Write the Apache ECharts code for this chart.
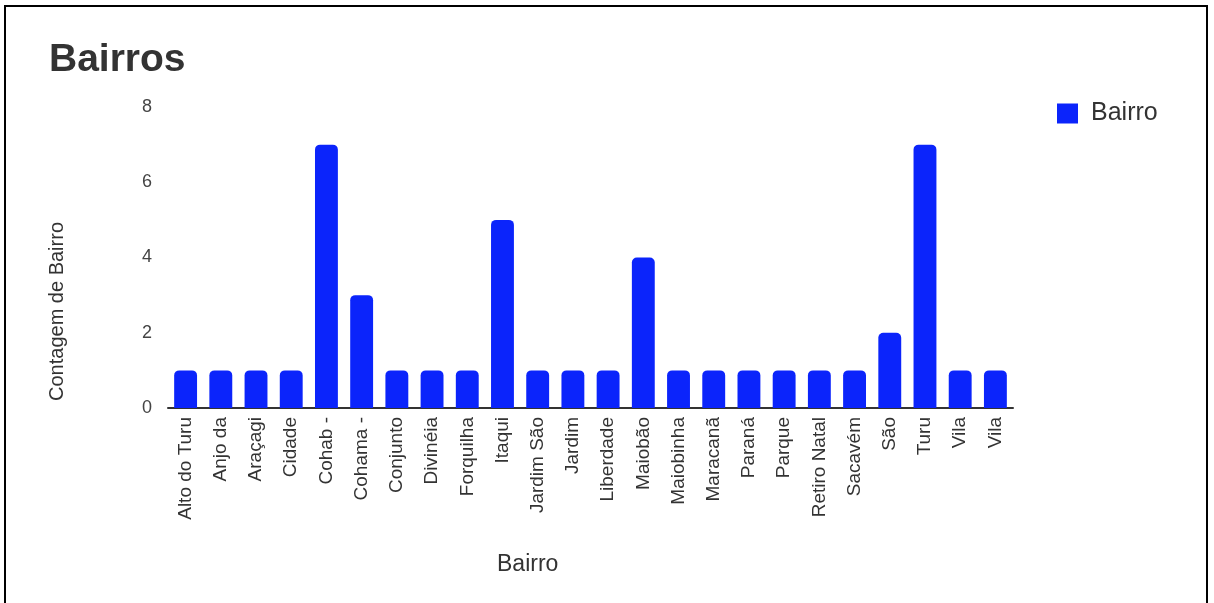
<!DOCTYPE html>
<html>
<head>
<meta charset="utf-8">
<script src="https://cdn.jsdelivr.net/npm/echarts@6/dist/echarts.min.js"></script>
<style>
  html, body { margin: 0; padding: 0; background: #fff; }
  #frame { position: absolute; left: 4px; top: 5px; width: 1204px; height: 604px; border: 2px solid #000; box-sizing: border-box; }
  #chart { position: absolute; left: 0; top: 0; width: 1214px; height: 603px; }
</style>
</head>
<body>
<div id="chart"></div>
<div id="frame"></div>
<script>
// Neighbourhood names along the x axis
const bairros = [
  'Alto do Turu', 'Anjo da', 'Araçagi', 'Cidade', 'Cohab -', 'Cohama -',
  'Conjunto', 'Divinéia', 'Forquilha', 'Itaqui', 'Jardim São', 'Jardim',
  'Liberdade', 'Maiobão', 'Maiobinha', 'Maracanã', 'Paraná', 'Parque',
  'Retiro Natal', 'Sacavém', 'São', 'Turu', 'Vila', 'Vila'
];
// Count per neighbourhood
const contagem = [1, 1, 1, 1, 7, 3, 1, 1, 1, 5, 1, 1, 1, 4, 1, 1, 1, 1, 1, 1, 2, 7, 1, 1];
// Value axis ticks
const yTicks = [0, 2, 4, 6, 8];

const chart = echarts.init(document.getElementById('chart'), null, { renderer: 'canvas' });
const font = 'Arial, "Liberation Sans", sans-serif';

chart.setOption({
  animation: false,
  title: {
    text: 'Bairros',
    left: 44, top: 36,
    textStyle: { fontFamily: font, fontSize: 39, fontWeight: 'bold', color: '#333' }
  },
  legend: {
    data: ['Bairro'],
    left: 1052, top: 96,
    itemWidth: 21, itemHeight: 20, itemGap: 10,
    icon: 'rect',
    textStyle: { fontFamily: font, fontSize: 25, color: '#333', padding: [0, 0, 0, 8] }
  },
  grid: { left: 168, right: 201, top: 107, bottom: 195, containLabel: false },
  xAxis: {
    type: 'category',
    data: bairros,
    axisLine: { lineStyle: { color: '#333', width: 2 } },
    axisTick: { show: false },
    axisLabel: {
      rotate: 90, interval: 0, margin: 9,
      fontFamily: font, fontSize: 19, color: '#333'
    }
  },
  yAxis: {
    type: 'value',
    min: yTicks[0], max: yTicks[yTicks.length - 1], interval: 2,
    axisLine: { show: false },
    axisTick: { show: false },
    splitLine: { show: false },
    axisLabel: { margin: 16, fontFamily: font, fontSize: 18, color: '#444' }
  },
  graphic: [
    {
      type: 'text', left: 47, top: 222,
      rotation: Math.PI / 2,
      style: { text: 'Contagem de Bairro', font: '20px ' + font, fill: '#333' }
    },
    {
      type: 'text', left: 497, top: 553,
      style: { text: 'Bairro', font: '23px ' + font, fill: '#333' }
    }
  ],
  series: [{
    name: 'Bairro',
    type: 'bar',
    data: contagem,
    barWidth: '65%',
    itemStyle: { color: '#0b24fb', borderRadius: [5, 5, 0, 0] }
  }]
});
</script>
</body>
</html>
